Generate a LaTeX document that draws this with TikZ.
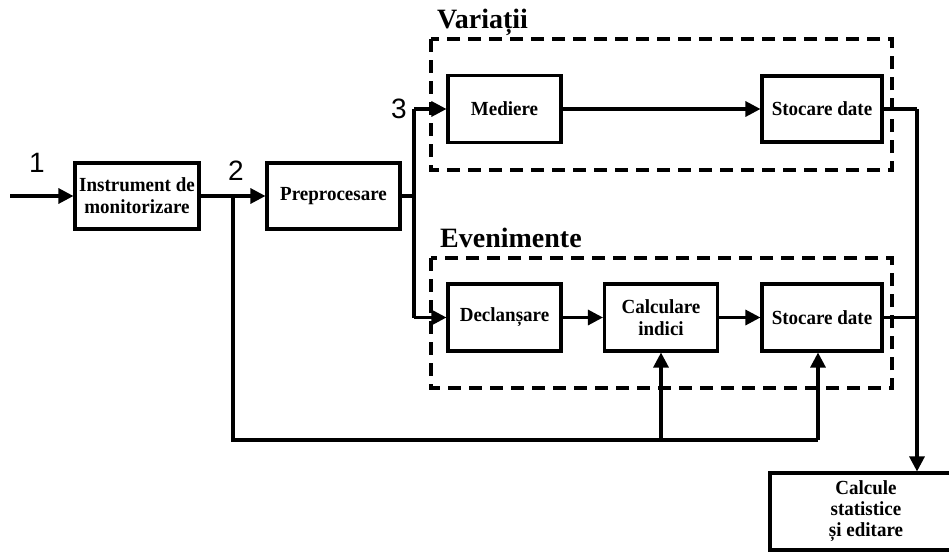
\documentclass[tikz,border=0pt]{standalone}
\usepackage{fontspec}
\setmainfont{Liberation Serif}
\newfontfamily\boxfont[FakeStretch=0.95]{Liberation Serif}
\newfontfamily\numfont{Liberation Sans}
\usetikzlibrary{arrows.meta}
\begin{document}
\begin{tikzpicture}[x=1pt,y=-1pt,
  blk/.style={draw,line width=3.1pt,inner sep=0pt,align=center,
    font=\boxfont\fontsize{20}{22}\selectfont\bfseries},
  conn/.style={line width=3.1pt},
  arr/.style={conn,-{Triangle[length=15pt,width=15pt]}},
  grp/.style={line width=3.2pt,dash pattern=on 13pt off 8pt},
  num/.style={font=\numfont\fontsize{28}{28}\selectfont,inner sep=0pt},
  ttl/.style={font=\fontsize{28}{28}\selectfont\bfseries,inner sep=0pt,anchor=base west}]
\useasboundingbox (0,0) rectangle (949,551);
\clip (0,0) rectangle (949,551);
\fill[white] (0,0) rectangle (949,551);

% group frames
\draw[grp] (431,39) rectangle (892,170);
\draw[grp] (431,258) rectangle (892,388);
\node[ttl] (tvar) at (437,29) {Variații};
\node[ttl] (tev) at (440,247) {Evenimente};

% blocks
\node[blk,minimum width=124pt,minimum height=66pt] (instr) at (137,196) {Instrument de\\monitorizare};
\node[blk,minimum width=133pt,minimum height=66pt] (prep) at (333.5,196) {Preprocesare};
\node[blk,minimum width=113pt,minimum height=67pt] (med) at (504.5,109) {Mediere};
\node[blk,minimum width=120pt,minimum height=66pt] (sto1) at (822,109) {Stocare date};
\node[blk,minimum width=113pt,minimum height=67pt] (decl) at (504.5,317.5) {Declanșare};
\node[blk,minimum width=113pt,minimum height=67pt] (calc) at (661,317.5) {Calculare\\indici};
\node[blk,minimum width=192pt,minimum height=77pt,font=\boxfont\fontsize{20}{21}\selectfont\bfseries] (calcule) at (866,511.5) {Calcule\\statistice\\și editare};
\node[blk,minimum width=120pt,minimum height=67pt] (sto2) at (822,317.5) {Stocare date};

% numbers
\node[num] (n1) at (37,163) {1};
\node[num] (n2) at (236,171) {2};
\node[num] (n3) at (399,109) {3};

% connectors
\coordinate (in) at (10,196);
\coordinate (j2) at (233,196);
\coordinate (bot) at (233,440);
\coordinate (b3) at (818,440);
\coordinate (sp) at (414,196);
\coordinate (r1) at (917,109);

\draw[arr] (in) -- (instr.west);
\draw[arr] (instr.east) -- (prep.west);
\draw[conn] (j2) -- (bot) -- (b3);
\draw[arr] (calc.south |- bot) -- (calc.south);
\draw[arr] (b3) -- (b3 |- sto2.south);
\draw[conn] (prep.east) -- (sp);
\draw[conn] (sp |- med.west) -- (sp |- decl.west);
\draw[arr] (sp |- med.west) -- (med.west);
\draw[arr] (sp |- decl.west) -- (decl.west);
\draw[arr] (med.east) -- (sto1.west);
\draw[arr] (decl.east) -- (calc.west);
\draw[arr] (calc.east) -- (sto2.west);
\draw[conn] (sto1.east) -- (r1);
\draw[arr] (r1) -- (r1 |- calcule.north);
\draw[conn] (sto2.east) -- (r1 |- sto2.east);
\end{tikzpicture}
\end{document}
